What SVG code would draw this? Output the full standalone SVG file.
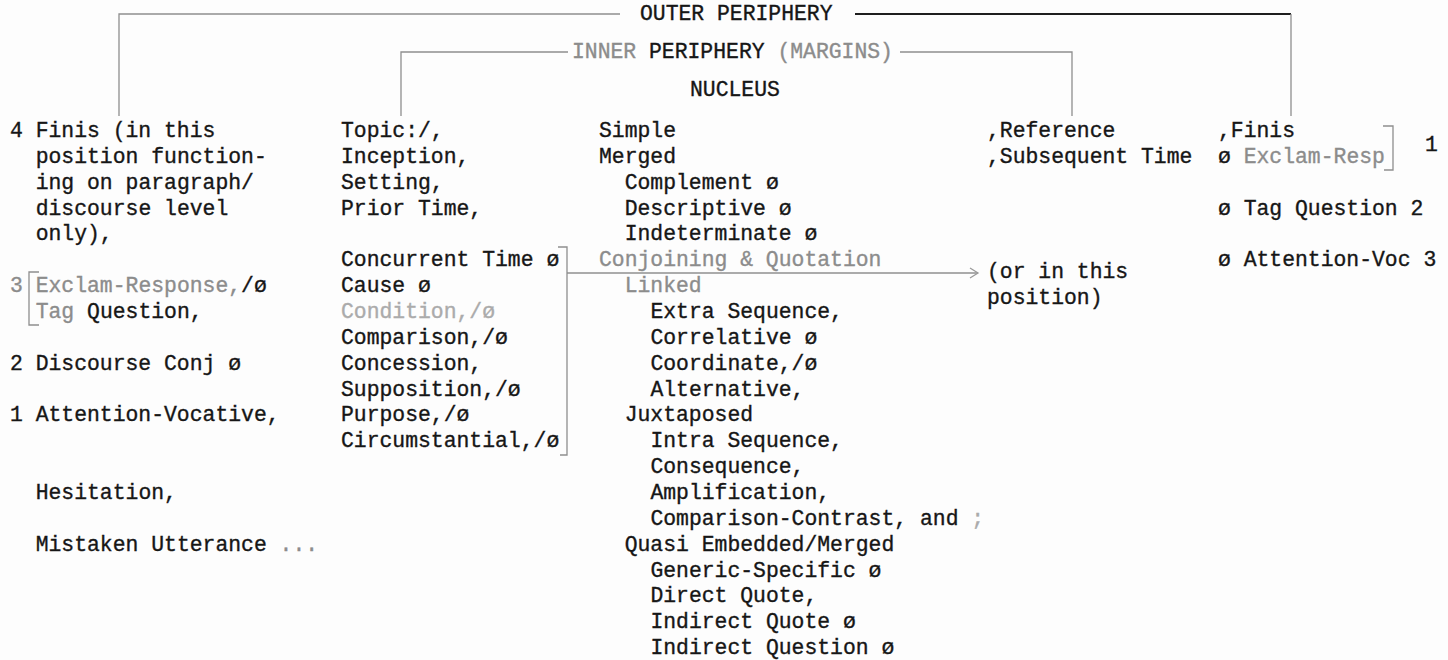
<svg xmlns="http://www.w3.org/2000/svg" width="1448" height="660" viewBox="0 0 1448 660">
  <style>
    text { font-family: "Liberation Mono", "Courier New", monospace; font-size: 21.4px; fill: #161616; stroke: #161616; stroke-width: 0.35; }
    .g { fill: #8c8c8c; stroke: #8c8c8c; }
    .lg { fill: #ababab; stroke: #ababab; }
    .ln { fill: none; stroke: #8f8f8f; stroke-width: 1.3; }
    .lnd { fill: none; stroke: #1e1e1e; stroke-width: 2; }
  </style>
  <defs>
    <marker id="chev" markerWidth="12" markerHeight="12" refX="10" refY="6" orient="auto" markerUnits="userSpaceOnUse">
      <path d="M2,1 L10,6 L2,11" fill="none" stroke="#9a9a9a" stroke-width="1.3"/>
    </marker>
  </defs>
  <rect width="1448" height="660" fill="#fdfdfd"/>

  <!-- bracket and arrow connectors -->
  <g id="connectors">
    <path class="ln" d="M119,116 V14 H620"/>
    <path class="lnd" d="M855,14 H1291"/>
    <path class="ln" d="M1291,14 V116"/>
    <path class="ln" d="M401,116 V52 H568"/>
    <path class="ln" d="M900,52 H1072 V116"/>
    <!-- group bracket for the margin clauses -->
    <path class="ln" d="M558,247 H567 V455 H560"/>
    <path class="ln" d="M567,273 H978" marker-end="url(#chev)"/>
    <!-- small brackets -->
    <path class="ln" d="M39,272 H29 V325 H39"/>
    <path class="ln" d="M1383,126 H1393 V170 H1384"/>
  </g>

  <g id="headings">
    <text x="640" y="20">OUTER PERIPHERY</text>
    <text x="572" y="58"><tspan class="g">INNER</tspan> PERIPHERY <tspan class="g">(MARGINS)</tspan></text>
    <text x="690" y="96">NUCLEUS</text>
  </g>

  <g id="outer-left">
    <text x="10" y="137">4 Finis (in this</text>
    <text x="35.7" y="162.9">position function-</text>
    <text x="35.7" y="188.7">ing on paragraph/</text>
    <text x="35.7" y="214.6">discourse level</text>
    <text x="35.7" y="240.4">only),</text>
    <text x="10" y="292.1"><tspan class="g">3</tspan></text>
    <text x="35.7" y="292.1"><tspan class="g">Exclam-Response,</tspan>/ø</text>
    <text x="35.7" y="317.9"><tspan class="g">Tag</tspan> Question,</text>
    <text x="10" y="369.7">2 Discourse Conj ø</text>
    <text x="10" y="421.4">1 Attention-Vocative,</text>
    <text x="35.7" y="498.9">Hesitation,</text>
    <text x="35.7" y="550.6">Mistaken Utterance <tspan class="g">...</tspan></text>
  </g>

  <g id="inner-left">
    <text x="341" y="137">Topic:/,</text>
    <text x="341" y="162.9">Inception,</text>
    <text x="341" y="188.7">Setting,</text>
    <text x="341" y="214.6">Prior Time,</text>
    <text x="341" y="266.3">Concurrent Time ø</text>
    <text x="341" y="292.1">Cause ø</text>
    <text x="341" y="317.9" class="lg">Condition,/ø</text>
    <text x="341" y="343.8">Comparison,/ø</text>
    <text x="341" y="369.7">Concession,</text>
    <text x="341" y="395.5">Supposition,/ø</text>
    <text x="341" y="421.4">Purpose,/ø</text>
    <text x="341" y="447.2">Circumstantial,/ø</text>
  </g>

  <g id="nucleus">
    <text x="599" y="137">Simple</text>
    <text x="599" y="162.9">Merged</text>
    <text x="624.7" y="188.7">Complement ø</text>
    <text x="624.7" y="214.6">Descriptive ø</text>
    <text x="624.7" y="240.4">Indeterminate ø</text>
    <text x="599" y="266.3" class="g">Conjoining &amp; Quotation</text>
    <text x="624.7" y="292.1" class="g">Linked</text>
    <text x="650.4" y="317.9">Extra Sequence,</text>
    <text x="650.4" y="343.8">Correlative ø</text>
    <text x="650.4" y="369.7">Coordinate,/ø</text>
    <text x="650.4" y="395.5">Alternative,</text>
    <text x="624.7" y="421.4">Juxtaposed</text>
    <text x="650.4" y="447.2">Intra Sequence,</text>
    <text x="650.4" y="473.1">Consequence,</text>
    <text x="650.4" y="498.9">Amplification,</text>
    <text x="650.4" y="524.8">Comparison-Contrast, and <tspan class="lg">;</tspan></text>
    <text x="624.7" y="550.6">Quasi Embedded/Merged</text>
    <text x="650.4" y="576.5">Generic-Specific ø</text>
    <text x="650.4" y="602.3">Direct Quote,</text>
    <text x="650.4" y="628.2">Indirect Quote ø</text>
    <text x="650.4" y="654">Indirect Question ø</text>
  </g>

  <g id="inner-right">
    <text x="987" y="137">,Reference</text>
    <text x="987" y="162.9">,Subsequent Time</text>
    <text x="987" y="278">(or in this</text>
    <text x="987" y="304">position)</text>
  </g>

  <g id="outer-right">
    <text x="1218" y="137">,Finis</text>
    <text x="1218" y="162.9">ø <tspan class="g">Exclam-Resp</tspan></text>
    <text x="1425" y="151">1</text>
    <text x="1218" y="214.6">ø Tag Question  2</text>
    <text x="1218" y="266.3">ø Attention-Voc 3</text>
  </g>
</svg>
